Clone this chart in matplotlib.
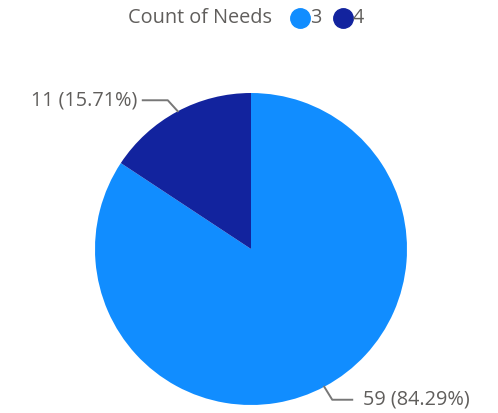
import numpy as np
import matplotlib.pyplot as plt

plt.rcParams['font.family'] = ['Open Sans', 'DejaVu Sans']

needs = ['3', '4']
counts = [59, 11]
colors = ['#118DFF', '#12239E']
txt = '#605E5C'

W, H = 498, 413
fig = plt.figure(figsize=(W / 100, H / 100), dpi=100)
ax = fig.add_axes([0, 0, 1, 1])

cx, cy, r = 251, H - 249, 156
wedges, _ = ax.pie(counts, colors=colors, startangle=90, counterclock=False,
                   center=(cx, cy), radius=r, frame=True,
                   wedgeprops=dict(linewidth=0))
ax.set_xlim(0, W)
ax.set_ylim(0, H)
ax.set_aspect('equal')
ax.axis('off')

total = sum(counts)
labels = [f'{c} ({c / total * 100:.2f}%)' for c in counts]
fs = 14.3

# slice 0 (59): leader from bottom-right rim
ang = np.deg2rad(-62)
p0 = (cx + r * np.cos(ang), cy + r * np.sin(ang))
p1 = (p0[0] + 8, p0[1] - 13)
p2 = (p1[0] + 20, p1[1])
ax.plot([p0[0], p1[0], p2[0]], [p0[1], p1[1], p2[1]], color='#777777', lw=1.4)
ax.text(p2[0] + 11, p2[1], labels[0], ha='left', va='center', color=txt, fontsize=fs)

# slice 1 (11): leader from top-left rim
ang = np.deg2rad(118)
p0 = (cx + r * np.cos(ang), cy + r * np.sin(ang))
p1 = (p0[0] - 10, p0[1] + 11)
p2 = (p1[0] - 25, p1[1])
ax.plot([p0[0], p1[0], p2[0]], [p0[1], p1[1], p2[1]], color='#777777', lw=1.4)
ax.text(p2[0] - 5, p2[1], labels[1], ha='right', va='center', color=txt, fontsize=fs)

# legend
ax.text(272, H - 18, 'Count of Needs', ha='right', va='center', color=txt, fontsize=fs)
for x, n, c in zip([300, 343], needs, colors):
    ax.plot(x, H - 18, 'o', color=c, markersize=14)
    ax.text(x + 10, H - 18, n, ha='left', va='center', color=txt, fontsize=fs)

fig.savefig('out.png', dpi=100)
